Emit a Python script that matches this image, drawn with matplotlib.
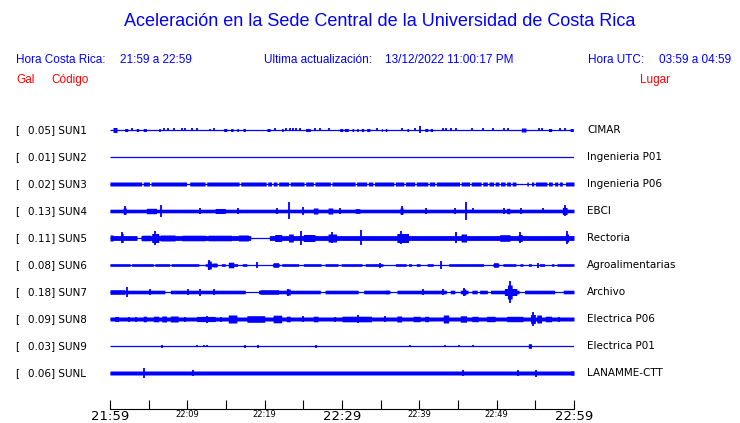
import numpy as np
import matplotlib.pyplot as plt

# station table
codes = ['SUN1', 'SUN2', 'SUN3', 'SUN4', 'SUN5', 'SUN6', 'SUN7', 'SUN8', 'SUN9', 'SUNL']
places = ['CIMAR', 'Ingenieria P01', 'Ingenieria P06', 'EBCI', 'Rectoria',
          'Agroalimentarias', 'Archivo', 'Electrica P06', 'Electrica P01', 'LANAMME-CTT']
gal = [0.05, 0.01, 0.02, 0.13, 0.11, 0.08, 0.18, 0.09, 0.03, 0.06]

# half thickness (px) of the background noise band of each trace
base_hw = [0.0, 0.0, 2.0, 1.8, 2.4, 1.3, 1.8, 2.0, 0.0, 2.0]

# bursts: (start min, end min, half amplitude px); start == end -> single spike
bursts = {
    'SUN1': [(0.4, 0.9, 2.5), (1.9, 2.3, 1.5), (2.8, 2.8, 1.5), (3.4, 3.7, 1.5), (4.3, 4.7, 1.5),
             (6.3, 6.5, 1.5), (7.0, 7.0, 1.5), (7.5, 7.5, 1.5), (8.3, 8.3, 1.5), (9.3, 9.3, 1.5),
             (9.7, 9.7, 1.5), (10.6, 10.6, 1.5), (11.2, 11.2, 1.5), (12.9, 12.9, 1.0), (13.4, 13.4, 1.5),
             (14.7, 15.1, 1.5), (15.6, 15.9, 1.5), (16.4, 16.6, 1.5), (17.2, 17.5, 1.5), (20.3, 20.7, 1.5),
             (21.3, 21.3, 1.5), (22.2, 22.4, 1.5), (22.8, 22.8, 1.5), (23.3, 23.3, 1.5), (23.7, 23.7, 1.5),
             (24.1, 24.1, 1.5), (24.6, 24.6, 1.5), (25.3, 25.9, 1.5), (26.5, 26.5, 1.5), (27.2, 27.2, 1.5),
             (28.3, 28.3, 1.5), (29.7, 30.1, 1.5), (30.3, 30.8, 1.5), (31.3, 31.5, 1.5), (31.9, 32.1, 1.5),
             (32.5, 32.8, 1.5), (33.2, 33.6, 1.5), (34.5, 34.5, 1.5), (35.1, 35.2, 1.5), (35.6, 35.8, 1.5),
             (37.8, 37.8, 1.5), (38.4, 38.6, 1.5), (39.4, 39.4, 1.5), (40.1, 40.1, 3.5), (40.7, 41.1, 1.5),
             (41.4, 41.7, 1.5), (43.0, 43.0, 1.5), (43.5, 43.5, 1.5), (44.1, 44.1, 1.5), (44.8, 44.8, 1.5),
             (46.8, 46.8, 1.5), (48.2, 48.2, 1.5), (49.5, 49.5, 1.5), (50.9, 50.9, 1.5), (51.5, 51.5, 1.5),
             (53.2, 53.8, 2.0), (55.5, 55.5, 1.5), (55.9, 55.9, 1.5), (56.7, 57.1, 1.5), (58.2, 58.2, 1.5),
             (58.8, 58.8, 1.5), (59.5, 59.9, 1.5)],
    'SUN2': [],
    'SUN3': [],
    'SUN4': [(1.7, 2.1, 3.0), (1.9, 1.9, 4.5), (4.7, 6.0, 2.7), (6.6, 6.6, 6.0), (11.6, 11.6, 3.0),
             (13.6, 14.9, 2.5), (16.6, 16.6, 3.0), (21.6, 21.6, 3.0), (23.1, 23.1, 8.5), (25.0, 25.0, 4.0),
             (26.3, 26.9, 3.0), (28.2, 28.8, 3.0), (29.7, 29.7, 3.0), (31.7, 32.3, 2.4), (37.5, 37.9, 3.0),
             (37.7, 37.7, 4.5), (40.9, 40.9, 3.0), (44.6, 44.6, 3.0), (46.0, 46.0, 9.0), (47.0, 47.0, 2.5),
             (50.9, 50.9, 3.0), (51.3, 51.7, 2.7), (53.2, 53.2, 3.0), (56.0, 56.0, 2.5), (58.5, 59.1, 3.5),
             (58.8, 58.8, 5.5)],
    'SUN5': [(0.0, 0.4, 3.0), (1.5, 1.7, 4.5), (1.6, 1.6, 5.5), (4.1, 5.2, 2.8), (5.4, 6.3, 4.5),
             (5.8, 5.8, 7.0), (6.5, 8.4, 3.0), (9.3, 12.3, 2.8), (12.7, 15.7, 2.8), (16.6, 17.9, 3.0),
             (21.3, 22.2, 3.5), (23.1, 23.7, 4.0), (24.7, 24.7, 7.0), (25.0, 26.5, 3.5), (28.2, 29.3, 4.0),
             (28.7, 28.7, 5.5), (32.5, 32.5, 7.5), (37.1, 38.6, 4.5), (37.6, 37.6, 6.5), (44.8, 44.8, 5.5),
             (45.4, 46.1, 4.0), (50.4, 51.7, 3.3), (53.0, 53.0, 5.5), (52.8, 53.3, 3.5), (58.9, 59.3, 4.0),
             (59.1, 59.1, 6.5)],
    'SUN6': [(12.6, 13.1, 4.0), (12.8, 12.8, 5.5), (13.2, 13.8, 2.0), (15.3, 16.0, 2.8), (19.0, 19.0, 3.0),
             (21.1, 21.8, 2.3), (34.9, 34.9, 2.5), (42.8, 42.8, 3.5), (49.6, 50.2, 2.3), (55.3, 55.3, 2.5)],
    'SUN7': [(0.0, 1.9, 2.3), (2.2, 2.2, 4.5), (5.2, 5.2, 3.0), (10.1, 10.1, 3.0), (11.6, 11.6, 3.5),
             (13.4, 13.4, 3.0), (19.4, 21.8, 2.3), (22.8, 23.3, 3.0), (23.0, 23.0, 3.5), (35.6, 36.0, 2.0),
             (40.5, 40.5, 3.0), (43.0, 43.0, 3.0), (45.6, 46.0, 3.0), (45.8, 45.8, 4.0), (51.0, 52.6, 3.5),
             (51.4, 52.0, 7.0), (51.7, 51.7, 11.5)],
    'SUN8': [(0.6, 1.1, 2.5), (2.4, 2.4, 2.5), (3.4, 3.4, 2.5), (4.3, 4.7, 2.8), (5.6, 6.3, 2.8),
             (6.7, 7.3, 3.0), (7.8, 8.8, 3.0), (9.7, 9.7, 2.5), (11.2, 13.6, 2.6), (12.5, 12.5, 3.5),
             (14.4, 14.4, 2.5), (15.3, 16.4, 4.0), (17.7, 20.0, 3.3), (21.1, 22.2, 3.8), (22.8, 23.3, 2.8),
             (25.0, 25.0, 3.0), (26.3, 26.9, 2.8), (29.1, 29.1, 2.5), (30.0, 33.8, 2.8), (32.1, 32.1, 4.0),
             (35.6, 35.6, 3.0), (37.1, 37.7, 3.0), (39.2, 40.1, 2.7), (40.7, 41.2, 2.7), (43.1, 43.8, 4.0),
             (45.3, 46.1, 3.2), (46.8, 47.6, 2.7), (48.7, 49.8, 2.7), (51.3, 53.4, 2.7), (54.4, 55.0, 4.5),
             (54.7, 54.7, 6.7), (55.2, 55.8, 4.0), (56.3, 57.1, 2.8), (58.0, 58.0, 2.5)],
    'SUN9': [(6.7, 6.7, 1.5), (11.2, 11.2, 1.2), (12.1, 12.1, 1.2), (12.5, 12.5, 1.2), (17.5, 17.5, 1.5),
             (19.1, 19.1, 1.5), (26.6, 26.6, 1.5), (38.8, 38.8, 1.2), (43.3, 43.3, 1.2), (45.1, 45.1, 1.2),
             (47.0, 47.0, 1.2), (54.1, 54.5, 2.3)],
    'SUNL': [(4.4, 4.4, 5.0), (10.7, 10.7, 2.5), (45.7, 45.7, 2.5), (52.7, 52.7, 2.5), (55.1, 55.1, 3.5),
             (59.6, 60.0, 2.3)],
}

# stretches where the noise band drops to the bare line (start min, end min)
quiet = {
    'SUN3': [(4.1, 4.3), (5.1, 5.3), (9.9, 10.3), (12.3, 12.5), (16.7, 16.9), (20.2, 20.4), (20.9, 21.1),
             (21.6, 21.8), (23.1, 23.3), (25.1, 25.3), (26.3, 26.5), (28.5, 28.7), (31.7, 31.9),
             (33.2, 33.4), (34.0, 34.2), (36.7, 36.9), (38.0, 38.2), (39.4, 39.6), (41.1, 41.3),
             (42.0, 42.2), (45.2, 45.4), (46.5, 46.7), (48.0, 48.2), (48.8, 49.0), (49.6, 49.8),
             (50.3, 50.5), (51.1, 51.3), (51.8, 52.0), (52.5, 53.9), (54.1, 54.5), (54.8, 55.0),
             (56.5, 56.7), (57.2, 57.5), (57.9, 58.1), (58.5, 58.9)],
    'SUN5': [(3.5, 4.0), (18.2, 20.6)],
    'SUN6': [(2.6, 2.8), (5.6, 5.8), (7.7, 7.9), (11.5, 12.3), (13.9, 14.4), (14.9, 15.3), (16.5, 17.1),
             (17.7, 21.0), (21.9, 22.2), (24.4, 25.0), (27.3, 27.8), (29.5, 29.9), (32.6, 33.0),
             (35.3, 36.9), (38.3, 38.6), (39.0, 39.6), (40.1, 41.0), (41.8, 43.8), (48.3, 49.5),
             (50.3, 50.8), (52.5, 53.0), (53.4, 54.1), (54.5, 55.5), (56.2, 57.1), (57.4, 57.8)],
    'SUN7': [(7.1, 7.8), (17.5, 19.2), (27.2, 27.8), (32.1, 32.8), (36.2, 37.1), (43.5, 44.0),
             (44.6, 45.3), (46.3, 46.8), (47.5, 47.8), (48.8, 49.2), (52.9, 53.6), (57.5, 58.6)],
}

tick_min = np.arange(0, 61, 5)
tick_lbl = ['21:59', '', '22:09', '', '22:19', '', '22:29', '', '22:39', '', '22:49', '', '22:59']

BLUE = '#0000ff'
RED = '#ff0000'
W, H = 740, 423
ROW0, ROWSTEP = 130, 27   # pixel centre of first trace and spacing


def fx(px):
    return px / W


def fy(py):
    return 1 - py / H


fig = plt.figure(figsize=(W / 100, H / 100), dpi=100)
ax = fig.add_axes([fx(110), fy(409), 464 / W, (409 - 117) / H])
ax.set_xlim(0, 60)
ax.set_ylim((409 - ROW0) / ROWSTEP, (117 - ROW0) / ROWSTEP)

t = np.linspace(0, 60, 6001)
for i, code in enumerate(codes):
    hw = np.full_like(t, base_hw[i])
    for a, b in quiet.get(code, []):
        hw[(t >= a) & (t <= b)] = 0
    spikes = []
    for a, b, h in bursts[code]:
        if b > a:
            m = (t >= a) & (t <= b)
            hw[m] = np.maximum(hw[m], h)
        else:
            spikes.append((a, h))
    ax.hlines(i, 0, 60, color=BLUE, lw=0.9)
    if hw.max() > 0:
        ax.fill_between(t, i - hw / ROWSTEP, i + hw / ROWSTEP, color=BLUE, lw=0)
    for a, h in spikes:
        ax.vlines(a, i - h / ROWSTEP, i + h / ROWSTEP, color=BLUE, lw=1.3)

for s in ['top', 'left', 'right']:
    ax.spines[s].set_visible(False)
ax.spines['bottom'].set_linewidth(0.8)
ax.set_yticks([])
ax.set_xticks(tick_min)
ax.set_xticklabels(tick_lbl, fontsize=6)
for k in (0, 6, 12):
    ax.get_xticklabels()[k].set_fontsize(9.5)
ax.tick_params(axis='x', direction='in', length=6.5, width=0.8, pad=0.8)

# header
hdr = dict(family='Liberation Sans', va='center')
fig.text(fx(380), fy(22), 'Aceleración en la Sede Central de la Universidad de Costa Rica',
         ha='center', color=BLUE, fontsize=13, **hdr)
fig.text(fx(16), fy(60), 'Hora Costa Rica:', color=BLUE, fontsize=8.5, **hdr)
fig.text(fx(120), fy(60), '21:59 a 22:59', color=BLUE, fontsize=8.5, **hdr)
fig.text(fx(264), fy(60), 'Ultima actualización:', color=BLUE, fontsize=8.5, **hdr)
fig.text(fx(385), fy(60), '13/12/2022 11:00:17 PM', color=BLUE, fontsize=8.5, **hdr)
fig.text(fx(588), fy(60), 'Hora UTC:', color=BLUE, fontsize=8.5, **hdr)
fig.text(fx(659), fy(60), '03:59 a 04:59', color=BLUE, fontsize=8.5, **hdr)
fig.text(fx(16), fy(80), 'Gal', color=RED, fontsize=8.5, **hdr)
fig.text(fx(51), fy(80), 'Código', color=RED, fontsize=8.5, **hdr)
fig.text(fx(640), fy(80), 'Lugar', color=RED, fontsize=8.5, **hdr)

# row labels
for i, code in enumerate(codes):
    y = fy(ROW0 + ROWSTEP * i)
    fig.text(fx(15), y, '[', va='center', fontsize=7.5)
    fig.text(fx(28), y, f'{gal[i]:.2f}] {code}', va='center', fontsize=7.5)
    fig.text(fx(587), y, places[i], va='center', fontsize=7.5)

fig.savefig('out.png', dpi=100)
